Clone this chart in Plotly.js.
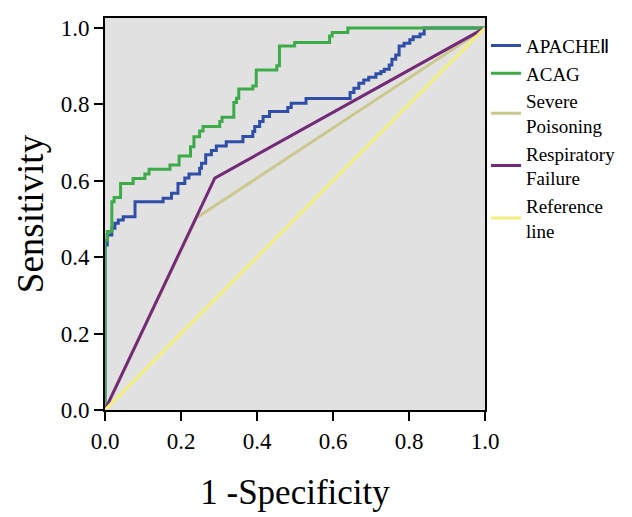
<!DOCTYPE html>
<html>
<head>
<meta charset="utf-8">
<script src="https://cdn.plot.ly/plotly-3.0.1.min.js"></script>
<style>html,body{margin:0;padding:0;background:#fff;}#chart{width:632px;height:517px;}</style>
</head>
<body>
<div id="chart"></div>
<script>
// ROC curve corner points (1 - specificity, sensitivity)
const seriesNames = ["APACHEⅡ", "ACAG", "Severe<br>Poisoning", "Respiratory<br>Failure", "Reference<br>line"];

const apacheFpr = [0, 0, 0.006, 0.018, 0.026, 0.035, 0.048, 0.079, 0.153, 0.175, 0.192, 0.210, 0.221, 0.249, 0.254, 0.265, 0.280, 0.293, 0.319, 0.363, 0.389, 0.394, 0.407, 0.416, 0.433, 0.481, 0.490, 0.529, 0.645, 0.655, 0.668, 0.681, 0.694, 0.713, 0.726, 0.735, 0.748, 0.755, 0.765, 0.774, 0.787, 0.802, 0.811, 0.829, 0.840, 0.840, 1];
const apacheTpr = [0, 0.432, 0.458, 0.476, 0.489, 0.497, 0.506, 0.545, 0.554, 0.567, 0.593, 0.607, 0.618, 0.633, 0.646, 0.668, 0.679, 0.691, 0.702, 0.716, 0.729, 0.742, 0.755, 0.768, 0.781, 0.792, 0.803, 0.815, 0.831, 0.842, 0.855, 0.864, 0.871, 0.880, 0.886, 0.892, 0.903, 0.918, 0.929, 0.953, 0.960, 0.969, 0.977, 0.984, 0.995, 1, 1];

const acagFpr = [0, 0, 0.006, 0.018, 0.024, 0.041, 0.074, 0.105, 0.116, 0.171, 0.195, 0.225, 0.234, 0.249, 0.258, 0.302, 0.308, 0.339, 0.346, 0.352, 0.389, 0.398, 0.452, 0.459, 0.499, 0.591, 0.598, 0.639, 1];
const acagTpr = [0, 0.445, 0.467, 0.545, 0.556, 0.593, 0.606, 0.618, 0.630, 0.641, 0.665, 0.689, 0.715, 0.730, 0.742, 0.755, 0.766, 0.805, 0.816, 0.840, 0.848, 0.890, 0.901, 0.953, 0.962, 0.979, 0.988, 1, 1];

const severeFpr = [0, 0.241, 1];
const severeTpr = [0, 0.503, 1];

const respFpr = [0, 0.289, 1];
const respTpr = [0, 0.607, 1];

const refFpr = [0, 1];
const refTpr = [0, 1];

const colors = ["#2f4ea8", "#3dab49", "#c9c98e", "#732a78", "#f3ef7e"];

const serif = "Liberation Serif, Times New Roman, serif";

const traces = [
  {x: apacheFpr, y: apacheTpr, name: seriesNames[0], mode: "lines", line: {color: colors[0], width: 3, shape: "hv"}},
  {x: acagFpr, y: acagTpr, name: seriesNames[1], mode: "lines", line: {color: colors[1], width: 3, shape: "hv"}},
  {x: severeFpr, y: severeTpr, name: seriesNames[2], mode: "lines", line: {color: colors[2], width: 3}},
  {x: respFpr, y: respTpr, name: seriesNames[3], mode: "lines", line: {color: colors[3], width: 3}},
  {x: refFpr, y: refTpr, name: seriesNames[4], mode: "lines", line: {color: colors[4], width: 3}}
];

const axisCommon = {
  showline: true, linecolor: "#000", linewidth: 2, mirror: true,
  ticks: "outside", ticklen: 9, tickwidth: 2, tickcolor: "#000",
  showgrid: false, zeroline: false,
  tickfont: {family: serif, size: 23, color: "#000"},
  tickformat: ".1f", dtick: 0.2
};

const layout = {
  width: 632, height: 517,
  margin: {l: 105, r: 146, t: 18, b: 107},
  paper_bgcolor: "#fff",
  plot_bgcolor: "#e1e1e1",
  font: {family: serif, color: "#000"},
  xaxis: Object.assign({}, axisCommon, {
    range: [0, 1],
    title: {text: "1 -Specificity", font: {family: serif, size: 35, color: "#000"}, standoff: 27}
  }),
  yaxis: Object.assign({}, axisCommon, {
    range: [0, 1.026],
    tick0: 0,
    title: {text: "Sensitivity", font: {family: serif, size: 37, color: "#000"}, standoff: 6}
  }),
  showlegend: true,
  legend: {
    x: 1.0, xanchor: "left", y: 0.978, yanchor: "top",
    font: {family: serif, size: 19, color: "#000"},
    bgcolor: "rgba(0,0,0,0)", borderwidth: 0,
    tracegroupgap: 0, itemwidth: 30, valign: "middle"
  }
};

Plotly.newPlot("chart", traces, layout, {displayModeBar: false, staticPlot: true});
</script>
</body>
</html>
